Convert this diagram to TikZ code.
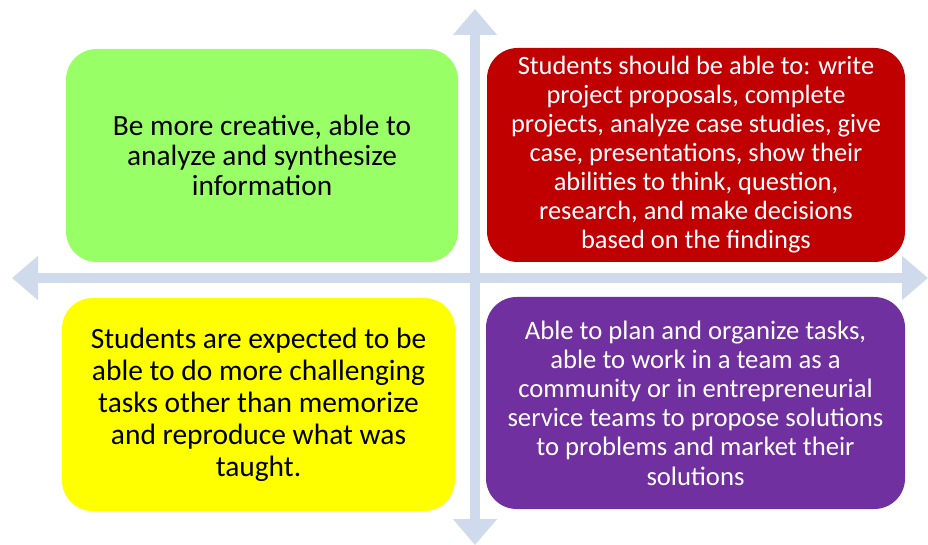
\documentclass[tikz,border=0pt]{standalone}
\usepackage{fontspec}
\setmainfont{Carlito}
\usepackage{tikz}
\usetikzlibrary{arrows.meta, positioning}
\definecolor{axisblue}{RGB}{207,219,236}
\definecolor{boxgreen}{RGB}{153,255,102}
\definecolor{boxred}{RGB}{192,0,0}
\definecolor{boxyellow}{RGB}{255,255,0}
\definecolor{boxpurple}{RGB}{112,48,160}
\tikzset{
	axis/.style={draw=axisblue, line width=8pt, {Triangle[length=19.5pt, width=32pt]}-{Triangle[length=19.5pt, width=32pt]}}, % the big double arrows
	quad/.style={rounded corners=23pt, align=center, inner sep=0pt}, % sets the look of each box
	quadtext/.style={font=\fontsize{19.8}{21.75}\selectfont},
}
\begin{document}
\begin{tikzpicture}[x=0.75pt, y=-0.75pt]
        \useasboundingbox (0,0) rectangle (928,545);
        % Ends of the two axes
        \coordinate (top) at (475,9);
        \coordinate (bottom) at (475,545);
        \coordinate (left) at (12,278);
        \coordinate (right) at (928,278);
        \draw[axis] (bottom) -- (top);
        \draw[axis] (left) -- (right);

        % The four boxes
        \node[quad, fill=boxgreen, minimum width=294pt, minimum height=159.75pt,
            font=\fontsize{22}{22.8}\selectfont] (creative) at (262,155.5)
            {Be more creative, able to\\analyze and synthesize\\information};
        \node[quad, quadtext, fill=boxred, text=white, minimum width=313.5pt, minimum height=160.5pt] (projects) at (696,155)
            {Students should be able to: write\\project proposals, complete\\projects, analyze case studies, give\\case, presentations, show their\\abilities to think, question,\\research, and make decisions\\based on the findings};
        \node[quad, fill=boxyellow, minimum width=294.75pt, minimum height=159.75pt,
            font=\fontsize{22.1}{24}\selectfont] (expected) at (258.5,404.5)
            {Students are expected to be\\able to do more challenging\\tasks other than memorize\\and reproduce what was\\taught.};
        \node[quad, fill=boxpurple, text=white, minimum width=314.25pt, minimum height=159pt,
            font=\fontsize{20}{21.9}\selectfont] (teams) at (695.5,403)
            {Able to plan and organize tasks,\\able to work in a team as a\\community or in entrepreneurial\\service teams to propose solutions\\to problems and market their\\solutions};
    \end{tikzpicture}
\end{document}
